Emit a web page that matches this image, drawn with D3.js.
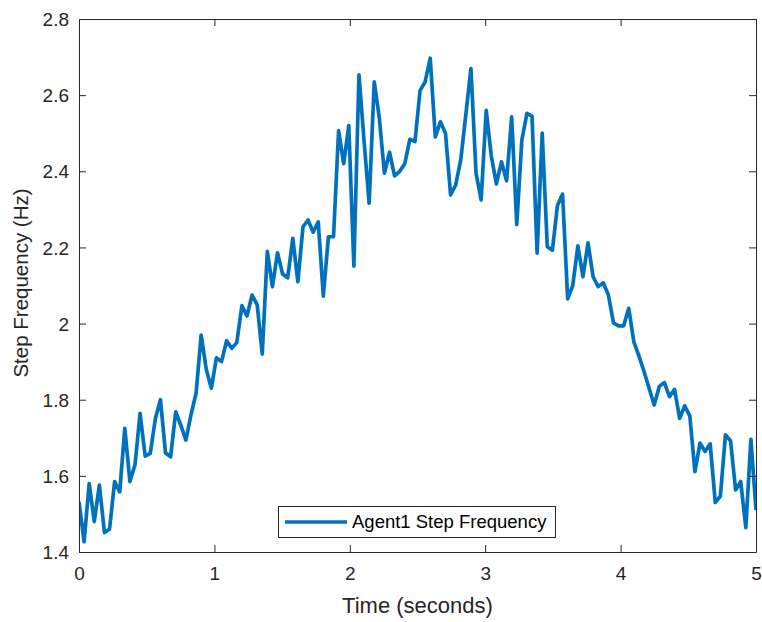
<!DOCTYPE html>
<html><head><meta charset="utf-8">
<script src="https://cdn.jsdelivr.net/npm/d3@7"></script>
<style>body{margin:0;background:#fff;}svg{display:block;font-family:Arial,"Liberation Sans",Helvetica,sans-serif;}</style>
</head><body>
<svg id="chart" width="762" height="622"></svg>
<script>
const seriesName = "Agent1 Step Frequency";
const stepFreq = [1.532,1.427,1.58,1.48,1.576,1.451,1.46,1.585,1.558,1.725,
1.585,1.629,1.764,1.652,1.659,1.75,1.80,1.66,1.65,1.768,
1.733,1.694,1.76,1.817,1.97,1.88,1.83,1.91,1.90,1.955,
1.935,1.95,2.047,2.02,2.075,2.05,1.92,2.19,2.097,2.186,
2.13,2.12,2.224,2.11,2.254,2.272,2.24,2.267,2.072,2.228,
2.228,2.507,2.42,2.52,2.151,2.653,2.48,2.316,2.635,2.54,
2.395,2.45,2.388,2.40,2.42,2.484,2.478,2.612,2.635,2.697,
2.49,2.53,2.50,2.338,2.364,2.43,2.55,2.67,2.395,2.325,
2.56,2.44,2.367,2.425,2.375,2.543,2.26,2.482,2.552,2.545,
2.185,2.50,2.202,2.193,2.311,2.34,2.065,2.10,2.204,2.123,
2.212,2.123,2.097,2.107,2.075,2.002,1.994,1.994,2.04,1.952,
1.915,1.874,1.83,1.786,1.835,1.845,1.808,1.827,1.751,1.784,
1.757,1.611,1.686,1.664,1.684,1.53,1.547,1.708,1.692,1.563,
1.585,1.464,1.696,1.51];
const tStart = 0, tEnd = 5;
const xTicks = [0,1,2,3,4,5];
const yTicks = [1.4,1.6,1.8,2,2.2,2.4,2.6,2.8];
const xLabel = "Time (seconds)";
const yLabel = "Step Frequency (Hz)";

const time = stepFreq.map((v,i)=> tStart + i*(tEnd-tStart)/(stepFreq.length-1));
const data = stepFreq.map((v,i)=>({t:time[i], v}));

const svg = d3.select("#chart");
const L=79, R=756, T=19, B=552;
const x = d3.scaleLinear().domain([0,5]).range([L,R]);
const y = d3.scaleLinear().domain([1.4,2.8]).range([B,T]);
const axisColor = "#262626";
const fmt = d => (d===2 ? "2" : d3.format(".1f")(d));

svg.append("rect").attr("x",L).attr("y",T).attr("width",R-L).attr("height",B-T).attr("fill","#fff");

// line
const clipId="clip";
svg.append("clipPath").attr("id",clipId).append("rect").attr("x",L).attr("y",T-3).attr("width",R-L).attr("height",B-T+6);
svg.append("path").datum(data)
  .attr("clip-path",`url(#${clipId})`)
  .attr("fill","none").attr("stroke","#0072BD").attr("stroke-width",3.7)
  .attr("stroke-linejoin","round")
  .attr("d", d3.line().x(d=>x(d.t)).y(d=>y(d.v)));

// axes
const tl=7;
const gB = svg.append("g").attr("transform",`translate(0,${B})`)
  .call(d3.axisBottom(x).tickValues(xTicks).tickFormat(d3.format("d")).tickSizeInner(-tl).tickSizeOuter(0).tickPadding(15));
const gT = svg.append("g").attr("transform",`translate(0,${T})`)
  .call(d3.axisTop(x).tickValues(xTicks).tickFormat("").tickSizeInner(-tl).tickSizeOuter(0));
const gL = svg.append("g").attr("transform",`translate(${L},0)`)
  .call(d3.axisLeft(y).tickValues(yTicks).tickFormat(fmt).tickSizeInner(-tl).tickSizeOuter(0).tickPadding(10));
const gR = svg.append("g").attr("transform",`translate(${R},0)`)
  .call(d3.axisRight(y).tickValues(yTicks).tickFormat("").tickSizeInner(-tl).tickSizeOuter(0));
[gB,gT,gL,gR].forEach(g=>{
  g.selectAll("path.domain").attr("stroke",axisColor).attr("stroke-width",1);
  g.selectAll("line").attr("stroke",axisColor);
  g.selectAll("text").attr("fill",axisColor).attr("font-size",19).attr("font-family","Arial, 'Liberation Sans', sans-serif");
});
gL.selectAll("text").attr("dy","0.35em");

// labels
svg.append("text").attr("x",(L+R)/2).attr("y",613).attr("text-anchor","middle")
  .attr("font-size",22).attr("fill",axisColor).text(xLabel);
svg.append("text").attr("transform",`translate(28,283) rotate(-90)`).attr("text-anchor","middle")
  .attr("font-size",20.5).attr("fill",axisColor).text(yLabel);

// legend
const lg = svg.append("g");
lg.append("rect").attr("x",278.5).attr("y",506.5).attr("width",277).attr("height",31)
  .attr("fill","#fff").attr("stroke",axisColor).attr("stroke-width",1);
lg.append("line").attr("x1",285).attr("x2",347).attr("y1",522).attr("y2",522)
  .attr("stroke","#0072BD").attr("stroke-width",3.7);
lg.append("text").attr("x",352).attr("y",522).attr("dy","0.35em").attr("font-size",18.5)
  .attr("fill","#000").text(seriesName);
</script>
</body></html>
